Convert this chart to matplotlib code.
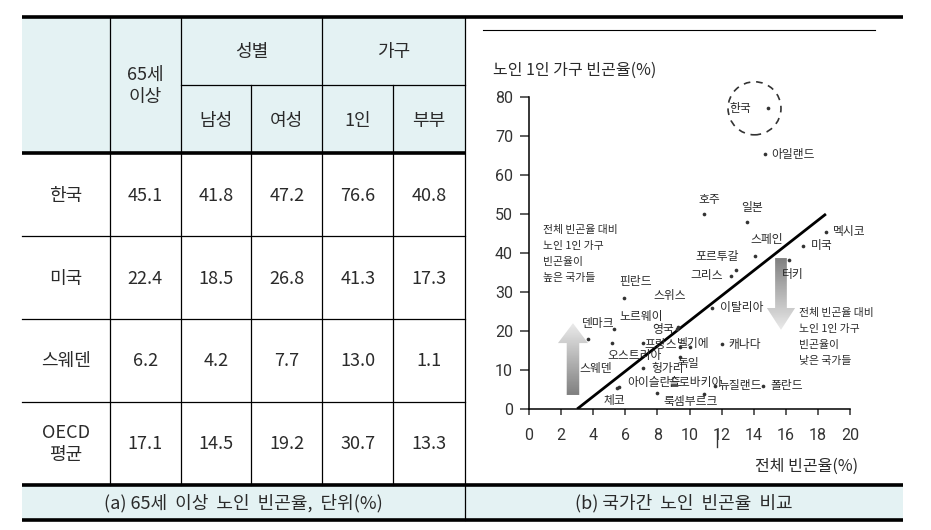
import matplotlib
matplotlib.use('Agg')
import matplotlib.pyplot as plt
import numpy as np
from matplotlib.patches import Rectangle, Ellipse, Polygon

plt.rcParams['font.family'] = ['Noto Sans CJK KR', 'DejaVu Sans']

# (a) 65세 이상 노인 빈곤율 table
row_labels = ['한국', '미국', '스웨덴', 'OECD\n평균']
age65 = [45.1, 22.4, 6.2, 17.1]
male = [41.8, 18.5, 4.2, 14.5]
female = [47.2, 26.8, 7.7, 19.2]
single = [76.6, 41.3, 13.0, 30.7]
couple = [40.8, 17.3, 1.1, 13.3]

# (b) 전체 빈곤율 vs 노인 1인 가구 빈곤율
countries = ['한국', '아일랜드', '호주', '일본', '스페인', '포르투갈', '그리스',
             '멕시코', '미국', '터키', '핀란드', '스위스', '이탈리아', '덴마크',
             '노르웨이', '영국', '스웨덴', '오스트리아', '프랑스', '벨기에', '독일',
             '헝가리', '캐나다', '체코', '아이슬란드', '슬로바키아', '룩셈부르크',
             '뉴질랜드', '폴란드']
overall = [14.9, 14.7, 10.9, 13.6, 14.1, 12.9, 12.6,
           18.5, 17.1, 16.2, 5.9, 9.3, 11.4, 3.7,
           5.3, 9.2, 5.2, 7.1, 9.4, 10.0, 9.4,
           7.1, 12.0, 5.5, 5.6, 10.9, 8.0,
           11.6, 14.6]
elderly_single = [77.1, 65.3, 50.1, 48.0, 39.3, 35.6, 34.2,
                  45.5, 41.8, 38.2, 28.5, 21.0, 26.0, 18.0,
                  20.6, 20.5, 16.9, 16.9, 16.0, 16.0, 13.3,
                  10.5, 16.6, 5.5, 5.7, 3.8, 4.0,
                  6.0, 6.0]
fit_x = [3.0, 18.5]
fit_y = [0, 50]

# label offsets in pixels (dx, dy downwards, ha)
label_pos = {
    '한국': (-17, 0, 'right'), '아일랜드': (6, 0, 'left'), '호주': (5, -14, 'center'),
    '일본': (5, -14, 'center'), '스페인': (11, -16, 'center'), '포르투갈': (-19, -14, 'center'),
    '그리스': (-8, 0, 'right'), '멕시코': (7, 0, 'left'), '미국': (7, 0, 'left'),
    '터키': (4, 14, 'center'), '핀란드': (12, -16, 'center'), '스위스': (-9, -32, 'center'),
    '이탈리아': (8, 0, 'left'), '덴마크': (10, -15, 'center'), '노르웨이': (27, -12, 'center'),
    '영국': (-3, 0, 'right'), '스웨덴': (-17, 25, 'center'), '오스트리아': (-8, 12, 'center'),
    '프랑스': (-3, -2, 'right'), '벨기에': (4, -3, 'center'), '독일': (8, 6, 'center'),
    '헝가리': (8, 0, 'left'), '캐나다': (7, 0, 'left'), '체코': (-3, 13, 'center'),
    '아이슬란드': (8, -4, 'left'), '슬로바키아': (-8, -12, 'center'),
    '룩셈부르크': (33, 8, 'center'), '뉴질랜드': (3, 0, 'left'), '폴란드': (7, 0, 'left'),
}

HEAD = '#e4f2f3'
TXT = '#2a2a2a'

fig = plt.figure(figsize=(9.31, 5.30), dpi=100)
bg = fig.add_axes([0, 0, 1, 1])
bg.set_xlim(0, 931)
bg.set_ylim(530, 0)
bg.axis('off')

# table frame
xs = [22, 110, 180.7, 251.3, 322.3, 393.3, 465]
bg.add_patch(Rectangle((22, 17), 443, 136, fc=HEAD, ec='none'))
bg.add_patch(Rectangle((22, 486), 881, 33, fc=HEAD, ec='none'))
for y in [17, 153, 485, 520]:
    x1 = 465 if y == 153 else 903
    bg.plot([22, x1], [y, y], color='black', lw=2.6, solid_capstyle='butt')
for y in [236, 319, 402]:
    bg.plot([22, 465], [y, y], color='black', lw=0.9)
bg.plot([180.7, 465], [85, 85], color='black', lw=0.9)
for x in xs[1:]:
    top = 85 if x in (251.3, 393.3) else 17
    bottom = 520 if x == 465 else 485
    bg.plot([x, x], [top, bottom], color='black', lw=0.9)
bg.plot([483, 875], [30, 30], color='black', lw=0.8)

tkw = dict(ha='center', va='center', fontsize=13, color=TXT)
bg.text(145.3, 86, '65세\n이상', linespacing=1.25, **tkw)
bg.text(251.5, 52, '성별', **tkw)
bg.text(393.7, 52, '가구', **tkw)
for x0, x1, s in zip(xs[2:-1], xs[3:], ['남성', '여성', '1인', '부부']):
    bg.text((x0 + x1) / 2, 121, s, **tkw)

row_y = [196, 279, 361, 444]
cols = [age65, male, female, single, couple]
for r, (lab, yc) in enumerate(zip(row_labels, row_y)):
    bg.text(66, yc, lab, linespacing=1.3, **tkw)
    for c, vals in enumerate(cols):
        bg.text((xs[c + 1] + xs[c + 2]) / 2, yc, f'{vals[r]:.1f}', **tkw)

bg.text(243.5, 503, '(a) 65세  이상  노인  빈곤율,  단위(%)', **tkw)
bg.text(684, 503, '(b) 국가간  노인  빈곤율  비교', **tkw)

# scatter panel
ax = fig.add_axes([529 / 931, 1 - 409 / 530, 321 / 931, 312 / 530])
ax.set_xlim(0, 20)
ax.set_ylim(0, 80)
ax.patch.set_alpha(0)
for s in ['top', 'right']:
    ax.spines[s].set_visible(False)
for s in ['left', 'bottom']:
    ax.spines[s].set_linewidth(1.1)
ax.set_xticks(range(0, 21, 2))
ax.set_yticks(range(0, 81, 10))
ax.tick_params(axis='y', direction='out', length=6.5, width=1.1, pad=5, labelsize=11.5, colors='#333')
ax.tick_params(axis='x', direction='out', length=4.5, width=1.1, pad=9, labelsize=11.5, colors='#333')
for t in ax.get_xticklabels() + ax.get_yticklabels():
    t.set_fontfamily(['Liberation Sans Narrow', 'Roboto'])


def grad_arrow(xc, y_tail, y_tip, body_w, head_w, head_base):
    pts = [(xc - body_w / 2, y_tail), (xc - body_w / 2, head_base), (xc - head_w / 2, head_base),
           (xc, y_tip), (xc + head_w / 2, head_base), (xc + body_w / 2, head_base),
           (xc + body_w / 2, y_tail)]
    poly = Polygon(pts, closed=True, fc='none', ec='none', transform=ax.transData)
    ax.add_patch(poly)
    g = np.linspace(0, 1, 256).reshape(-1, 1)
    lo, hi = min(y_tail, y_tip), max(y_tail, y_tip)
    # darker towards the tip
    if y_tip > y_tail:
        g = 0.5 + 0.42 * g
    else:
        g = 0.92 - 0.42 * g
    im = ax.imshow(g, cmap='gray', vmin=0, vmax=1, extent=[xc - head_w / 2, xc + head_w / 2, hi, lo],
                   aspect='auto', zorder=1)
    im.set_clip_path(poly)


grad_arrow(2.74, 3.6, 22.0, 0.78, 1.87, 16.9)
grad_arrow(15.7, 38.7, 20.3, 0.73, 1.76, 25.9)
ax.set_xlim(0, 20)
ax.set_ylim(0, 80)

ax.plot(fit_x, fit_y, color='black', lw=2.0, zorder=3, solid_capstyle='butt')
ax.scatter(overall, elderly_single, s=7, color='#333', zorder=4, linewidths=0)
for name, x, y in zip(countries, overall, elderly_single):
    dx, dy, ha = label_pos[name]
    ax.annotate(name, (x, y), xytext=(dx, -dy), textcoords='offset pixels', ha=ha, va='center',
                fontsize=8.5, color=TXT, zorder=5, annotation_clip=False)

kx, ky = overall[0], elderly_single[0]
ax.add_patch(Ellipse((kx - 0.85, ky), 3.3, 13.6, fill=False, ec='#333', lw=1.2,
                     ls=(0, (4, 3.5)), zorder=5, clip_on=False))

ax.text(0.9, 47.2, '전체 빈곤율 대비\n노인 1인 가구\n빈곤율이\n높은 국가들', fontsize=7.8,
        color=TXT, va='top', ha='left', linespacing=1.75)
ax.text(16.84, 25.9, '전체 빈곤율 대비\n노인 1인 가구\n빈곤율이\n낮은 국가들', fontsize=7.8,
        color=TXT, va='top', ha='left', linespacing=1.75)
ax.plot([11.7, 11.7], [-5.4, -9.7], color='#333', lw=1.0, clip_on=False)

fig.text(493 / 931, 1 - 70 / 530, '노인 1인 가구 빈곤율(%)', fontsize=11.5, color=TXT, ha='left', va='center')
fig.text(858 / 931, 1 - 466 / 530, '전체 빈곤율(%)', fontsize=11.5, color=TXT, ha='right', va='center')

fig.savefig('out.png', dpi=100)
